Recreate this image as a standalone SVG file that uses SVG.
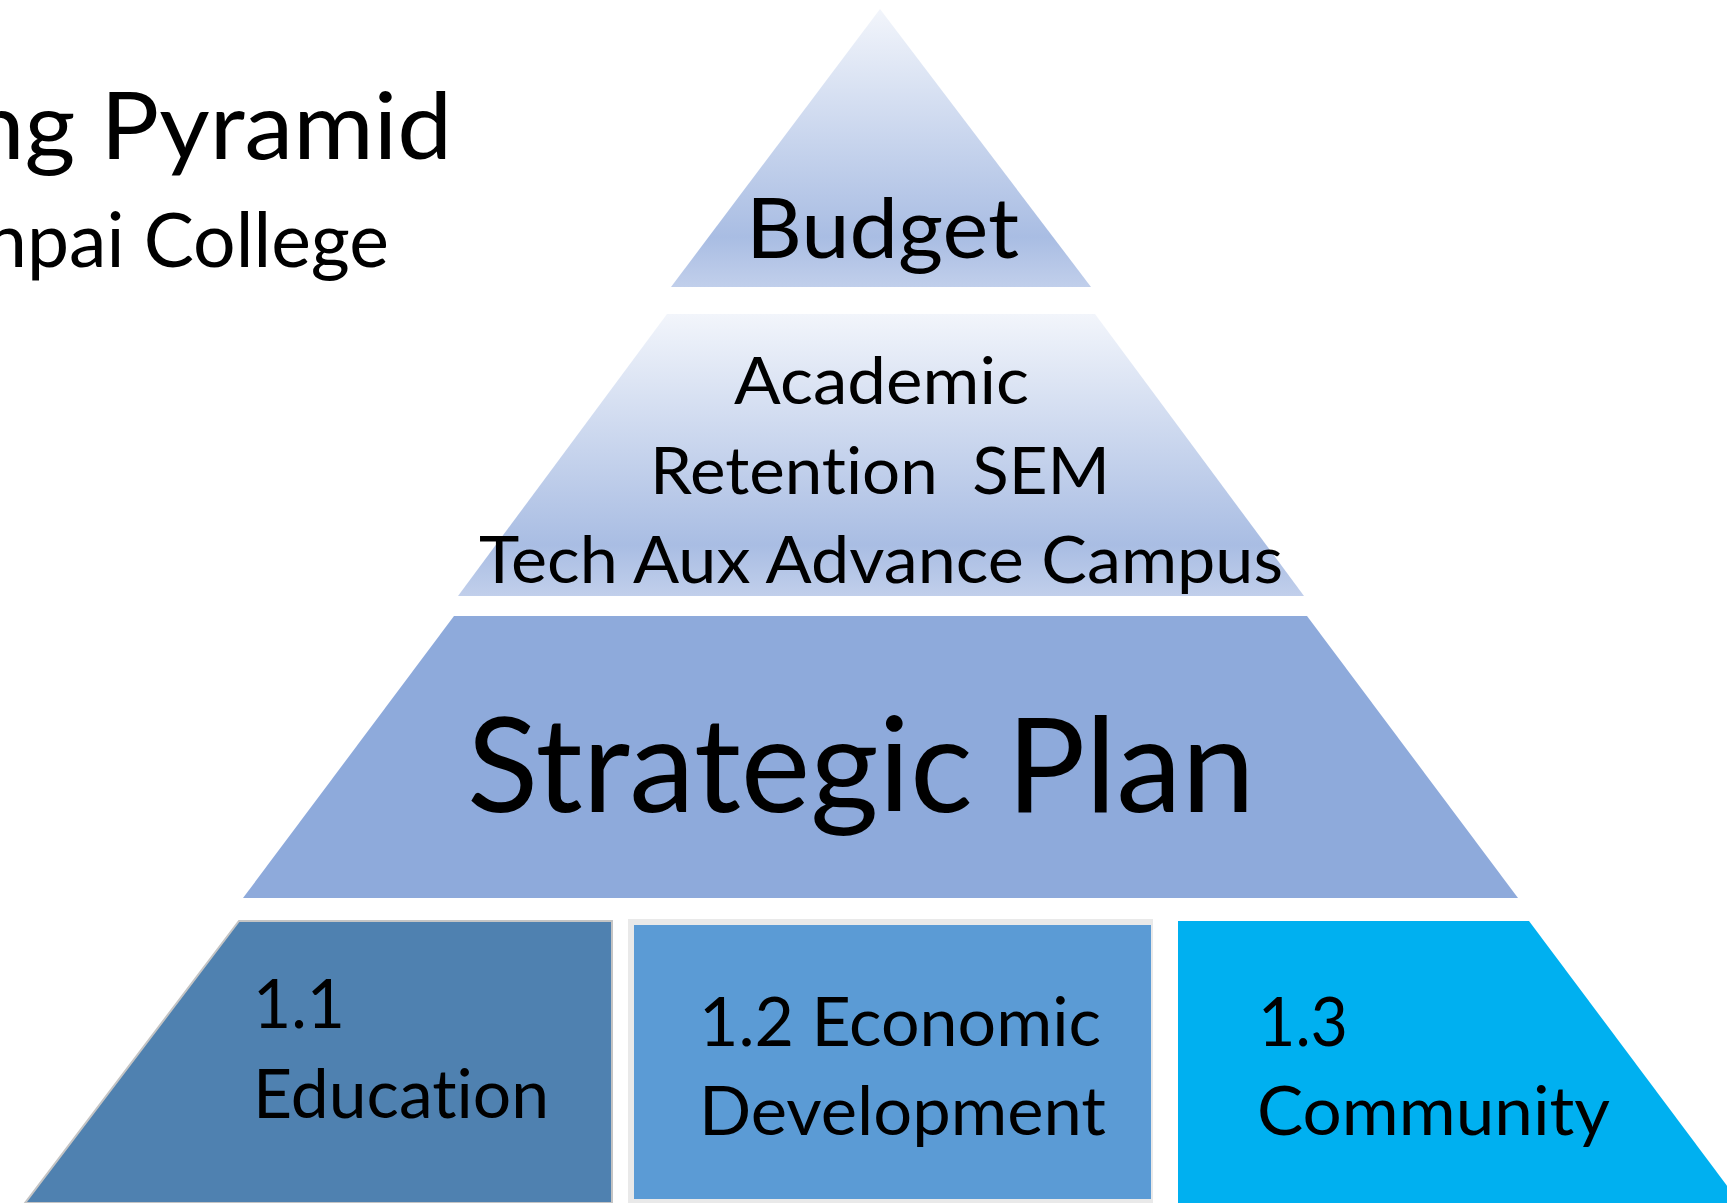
<svg xmlns="http://www.w3.org/2000/svg" width="1727" height="1203" viewBox="0 0 1727 1203">
<style>
  .t { font-family: Lato, "Open Sans", "Noto Sans", sans-serif; fill: #000; font-variant-ligatures: none; font-feature-settings: "liga" 0, "clig" 0; }
  .pre { white-space: pre; }
</style>
<defs>
  <linearGradient id="tierGrad" x1="0" y1="0" x2="0" y2="1">
    <stop offset="0" stop-color="#f2f5fb"/>
    <stop offset="0.82" stop-color="#a9bde3"/>
    <stop offset="1" stop-color="#c1cfeb"/>
  </linearGradient>
</defs>
<rect x="0" y="0" width="1727" height="1203" fill="#ffffff"/>

<g id="title">
  <text class="t" x="452" y="159" font-size="93" text-anchor="end" textLength="482" lengthAdjust="spacingAndGlyphs">ng Pyramid</text>
  <text class="t" x="389" y="267" font-size="75" text-anchor="end" textLength="404" lengthAdjust="spacingAndGlyphs">npai College</text>
</g>

<g id="budget">
  <polygon points="880,9 1091,287 671,287" fill="url(#tierGrad)"/>
  <text class="t" x="746" y="258" font-size="84" textLength="273" lengthAdjust="spacingAndGlyphs">Budget</text>
</g>

<g id="plans">
  <polygon points="667,314 1095,314 1304,596 458,596" fill="url(#tierGrad)"/>
  <text class="t" x="734" y="404" font-size="65" textLength="295" lengthAdjust="spacingAndGlyphs">Academic</text>
  <text class="t pre" x="650" y="494" font-size="65" textLength="460" lengthAdjust="spacingAndGlyphs">Retention  SEM</text>
  <text class="t" x="479" y="583" font-size="65" textLength="804" lengthAdjust="spacingAndGlyphs">Tech Aux Advance Campus</text>
</g>

<g id="strategic-plan">
  <polygon points="454,616 1307,616 1518,898 243,898" fill="#8eaadb"/>
  <text class="t" x="467" y="812" font-size="131" textLength="788" lengthAdjust="spacingAndGlyphs">Strategic Plan</text>
</g>

<g id="education">
  <polygon points="239,921 612,921 612,1203 25,1203" fill="#4f81b0" stroke="#c4c4c4" stroke-width="2"/>
  <text class="t" x="253" y="1028" font-size="68" textLength="92" lengthAdjust="spacingAndGlyphs">1.1</text>
  <text class="t" x="253" y="1118" font-size="68" textLength="296" lengthAdjust="spacingAndGlyphs">Education</text>
</g>

<g id="economic-development">
  <rect x="628" y="919" width="525" height="284" fill="#e9e9e9"/>
  <rect x="634" y="925" width="517" height="274" fill="#5b9bd5"/>
  <text class="t" x="699" y="1046" font-size="68" textLength="402" lengthAdjust="spacingAndGlyphs">1.2 Economic</text>
  <text class="t" x="699" y="1135" font-size="68" textLength="407" lengthAdjust="spacingAndGlyphs">Development</text>
</g>

<g id="community">
  <polygon points="1178,921 1529,921 1740,1203 1178,1203" fill="#00b0f0"/>
  <text class="t" x="1258" y="1046" font-size="68" textLength="90" lengthAdjust="spacingAndGlyphs">1.3</text>
  <text class="t" x="1257" y="1135" font-size="68" textLength="353" lengthAdjust="spacingAndGlyphs">Community</text>
</g>

<g id="connectors"></g>
</svg>
